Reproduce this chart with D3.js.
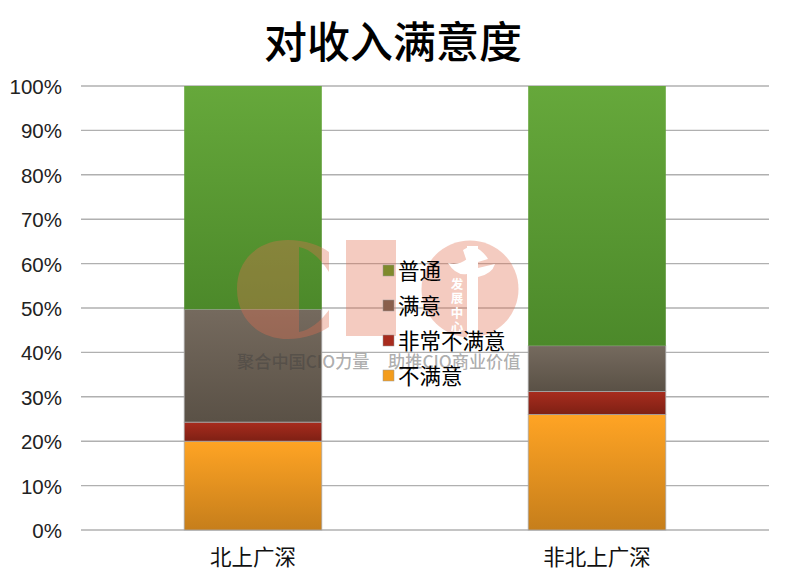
<!DOCTYPE html>
<html><head><meta charset="utf-8">
<style>html,body{margin:0;padding:0;background:#fff}svg{display:block}text{font-family:"Noto Sans CJK SC",sans-serif}</style>
<script src="https://cdnjs.cloudflare.com/ajax/libs/d3/7.8.5/d3.min.js"></script></head><body>
<script>
const titleText = "对收入满意度";
const categories = ["北上广深","非北上广深"];
const seriesNames = ["不满意","非常不满意","满意","普通"];
const notSatisfied = [20,26];
const veryNotSatisfied = [4.3,5.2];
const satisfied = [25.4,10.3];
const normal = [50.3,58.5];
const tickValues = [0,10,20,30,40,50,60,70,80,90,100];
const topColors = ["#ffa424","#a82c1e","#756a5e","#66a83b"];
const bottomColors = ["#c67e1b","#7e2014","#5a5146","#4c892a"];
const legendColors = ["#f39c1c","#a82c1e","#8a5f4c","#7f8a2c"];
const legendOrder = ["普通","满意","非常不满意","不满意"];
const w=789,h=581;
const svg=d3.select("body").append("svg").attr("width",w).attr("height",h);
const defs=svg.append("defs");
topColors.forEach((c,i)=>{const g=defs.append("linearGradient").attr("id","g"+i).attr("x1",0).attr("x2",0).attr("y1",0).attr("y2",1);
 g.append("stop").attr("offset",0).attr("stop-color",c);g.append("stop").attr("offset",1).attr("stop-color",bottomColors[i]);});
const x=d3.scaleBand().domain(categories).range([81,769]).paddingInner(0.6).paddingOuter(0.3);
const y=d3.scaleLinear().domain([0,100]).range([530,86]);
svg.append("text").attr("x",393).attr("y",58).attr("text-anchor","middle").attr("font-size",43).attr("font-weight",500).attr("fill","#000").text(titleText);
const axisY=svg.append("g").attr("transform","translate(81,1)").call(d3.axisLeft(y).tickValues(tickValues).tickFormat(d=>d+"%").tickSize(0).tickPadding(19));
axisY.select(".domain").remove();
axisY.selectAll("text").attr("font-size",20.5).attr("fill","#222").style("font-family",'"Liberation Sans",sans-serif');
svg.append("g").selectAll("line").data(tickValues).join("line").attr("x1",81).attr("x2",769).attr("y1",d=>y(d)).attr("y2",d=>y(d)).attr("stroke","#b0b0b0").attr("stroke-width",1.4);
const stacked=[notSatisfied,veryNotSatisfied,satisfied,normal];
const rows=categories.map((c,i)=>({c,a:stacked[0][i],b:stacked[1][i],d:stacked[2][i],e:stacked[3][i]}));
const stack=d3.stack().keys(["a","b","d","e"])(rows);
stack.forEach((s,si)=>{svg.append("g").selectAll("rect").data(s).join("rect")
 .attr("x",d=>x(d.data.c)).attr("width",x.bandwidth())
 .attr("y",d=>y(d[1])).attr("height",d=>y(d[0])-y(d[1]))
 .attr("fill",`url(#g${si})`).attr("stroke","#a8a8a8").attr("stroke-width",si==3?0:.8);});
const xa=svg.append("g").attr("transform","translate(0,530)").call(d3.axisBottom(x).tickSize(0).tickPadding(20));
xa.select(".domain").remove();
xa.selectAll("text").attr("font-size",21.5).attr("fill","#111");
// watermark
const wm=svg.append("g").attr("fill","#e0704f").attr("fill-opacity",.36);
wm.append("path").attr("d","M237 289 C237 258 260 240 288 240 C305 240 320 245 329 252 L329 272 C320 258 310 249 299 247 L299 332 C310 330 320 322 329 310 L329 327 C320 333 305 339 288 339 C260 339 237 320 237 289Z");
wm.append("rect").attr("x",346).attr("y",240).attr("width",50).attr("height",96);
wm.append("circle").attr("cx",470).attr("cy",289).attr("r",48.5);
const wm2=svg.append("g").attr("fill","#fff");
wm2.append("rect").attr("x",467).attr("y",246).attr("width",11).attr("height",92);
wm2.append("path").attr("d","M463 250 Q472 243 480 250 Q486 255 488 259 L478 262 L467 262Z");
wm2.append("path").attr("d","M448 263 Q458 266 467 259 L467 274 Q456 276 448 263Z");
wm2.append("path").attr("d","M478 268 L495 264 Q492 274 478 277Z");
wm2.selectAll("text").data(["发","展","中","心"]).join("text").attr("x",457).attr("y",(d,i)=>289+i*14.3).attr("text-anchor","middle").attr("font-size",12.5).attr("font-weight",700).text(d=>d);
svg.append("text").attr("x",237).attr("y",368).attr("font-size",17.2).attr("font-weight",500).attr("fill","#3c3c3c").attr("fill-opacity",.42).text("聚合中国CIO力量");
svg.append("text").attr("x",388).attr("y",368).attr("font-size",17.2).attr("font-weight",500).attr("fill","#3c3c3c").attr("fill-opacity",.42).text("助推CIO商业价值");
// legend
const lg=svg.append("g").selectAll("g").data(legendOrder).join("g").attr("transform",(d,i)=>`translate(383,${270+i*35})`);
lg.append("rect").attr("y",-5).attr("width",11).attr("height",11).attr("fill",d=>legendColors[seriesNames.indexOf(d)]).attr("stroke","#999").attr("stroke-width",.5);
lg.append("text").attr("x",15).attr("y",9).attr("font-size",21.5).attr("fill","#000").text(d=>d);
</script></body></html>
